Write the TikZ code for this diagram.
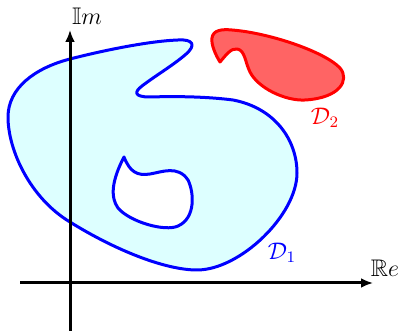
\documentclass[tikz,border=0pt]{standalone}
\usepackage{amssymb}
\usetikzlibrary{arrows.meta}
\definecolor{lightcy}{RGB}{221,255,255}
\definecolor{lightred}{RGB}{255,100,100}
\begin{document}
\begin{tikzpicture}[x=0.5pt,y=-0.5pt,
  axis/.style={line width=1.5pt,-{Latex[length=6pt,width=5pt]}},
  regionA/.style={draw=blue,fill=lightcy,line width=1.5pt,line join=round},
  holeA/.style={draw=blue,fill=white,line width=1.5pt,line join=round},
  regionB/.style={draw=red,fill=lightred,line width=1.5pt,line join=round},
  lbl/.style={inner sep=0pt,font=\fontsize{12}{14}\selectfont}]
\useasboundingbox (0,0) rectangle (402,331);
% D1 outer
\path[regionA] (70,59)
  .. controls (105,50) and (150,41) .. (178,40)
  .. controls (193,39) and (197,45) .. (185,55)
  .. controls (172,66) and (155,76) .. (142,86)
  .. controls (134,92) and (134,97) .. (150,97)
  .. controls (180,96) and (210,97) .. (233,100)
  .. controls (275,108) and (297,140) .. (297,173)
  .. controls (297,215) and (240,270) .. (197,270)
  .. controls (165,270) and (115,250) .. (70,222)
  .. controls (30,198) and (8,150) .. (8,117)
  .. controls (8,88) and (35,68) .. (70,59) -- cycle;
% hole
\path[holeA] (124,157)
  .. controls (130,172) and (137,176) .. (150,174)
  .. controls (162,172) and (178,165) .. (188,180)
  .. controls (194,192) and (196,218) .. (178,226)
  .. controls (165,232) and (130,222) .. (118,208)
  .. controls (110,197) and (112,180) .. (124,157) -- cycle;
% D2
\path[regionB] (220,62)
  .. controls (215,54) and (211,44) .. (212,38)
  .. controls (213,30) and (222,29) .. (232,30)
  .. controls (270,33) and (325,52) .. (340,68)
  .. controls (350,80) and (340,98) .. (305,100)
  .. controls (285,101) and (258,88) .. (250,72)
  .. controls (245,62) and (245,50) .. (237,49)
  .. controls (231,48) and (226,55) .. (220,62) -- cycle;
% axes
\coordinate (xs) at (20,283);
\coordinate (xe) at (373,283);
\coordinate (ys) at (70,331);
\coordinate (ye) at (70,30);
\draw[axis] (xs) -- (xe);
\draw[axis] (ys) -- (ye);
\node[lbl] (re) at (385,268) {$\mathbb{R}e$};
\node[lbl] (im) at (87,16) {$\mathbb{I}m$};
\node[lbl,text=blue] (d1) at (282,253) {$\mathcal{D}_1$};
\node[lbl,text=red] (d2) at (325,118) {$\mathcal{D}_2$};
\end{tikzpicture}
\end{document}
